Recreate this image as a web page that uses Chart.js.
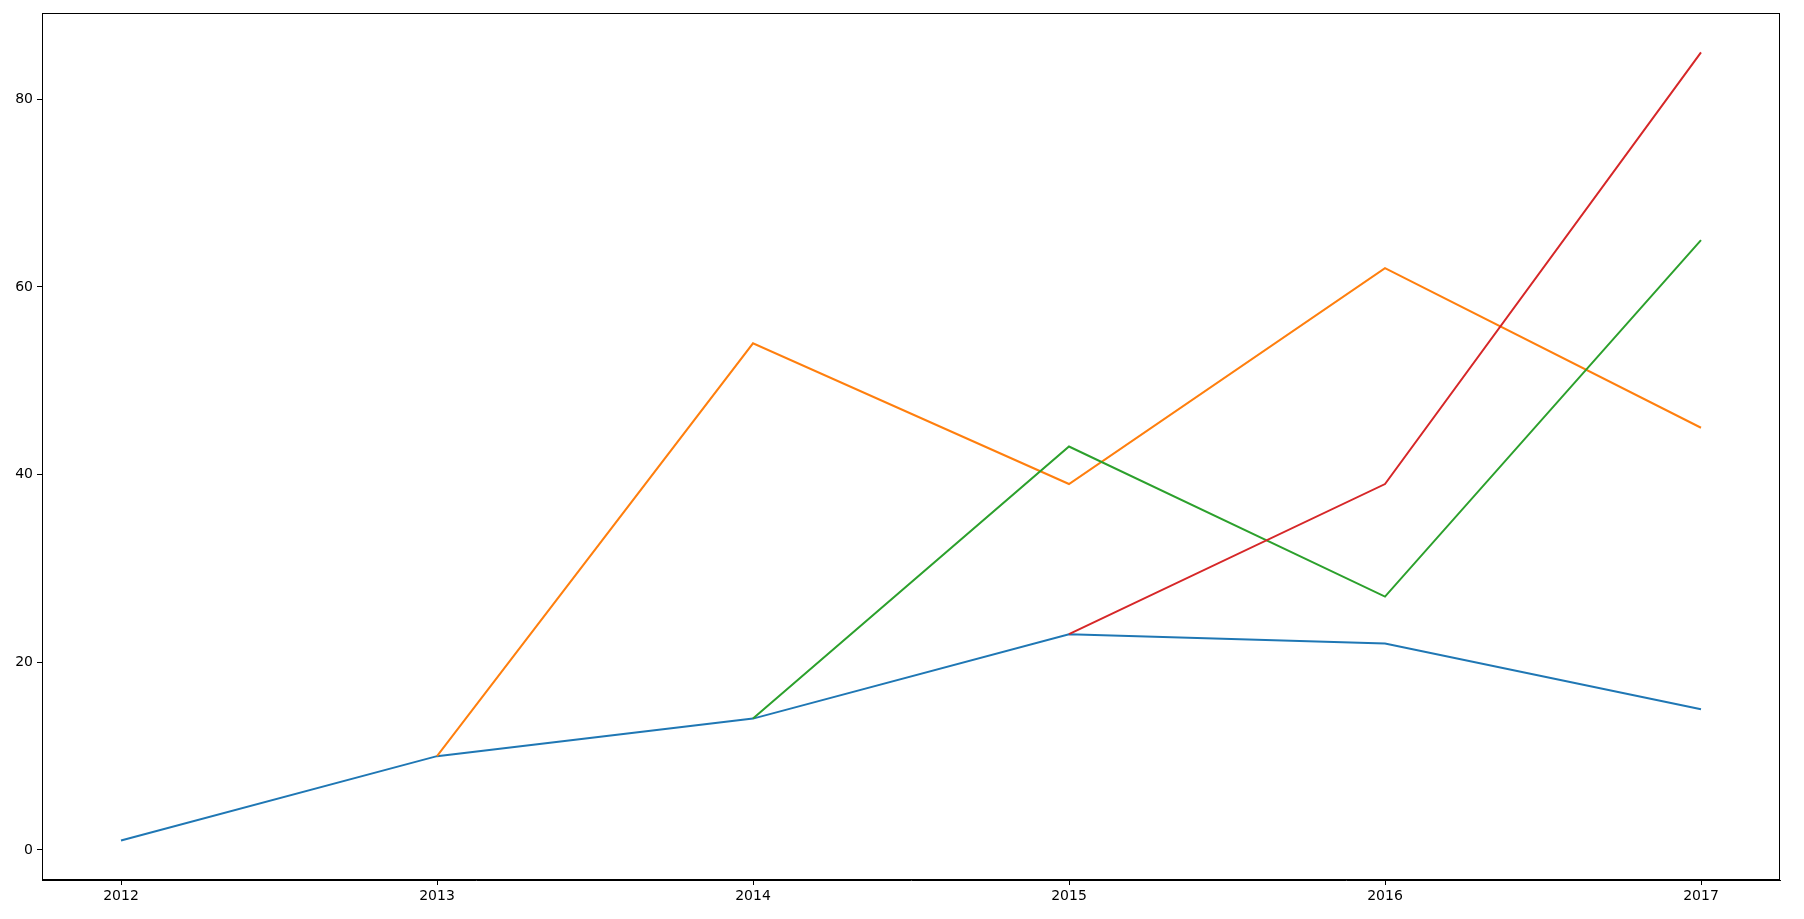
<!DOCTYPE html>
<html>
<head>
<meta charset="utf-8">
<script src="https://cdn.jsdelivr.net/npm/chart.js@4"></script>
<style>
html,body{margin:0;padding:0;background:#fff;}
#wrap{width:1804px;height:919px;}
</style>
</head>
<body>
<div id="wrap"><canvas id="c" width="1804" height="919"></canvas></div>
<script>
const years = [2012, 2013, 2014, 2015, 2016, 2017];
const seriesBlue   = [1, 10, 14, 23, 22, 15];
const seriesOrange = [null, 10, 54, 39, 62, 45];
const seriesGreen  = [null, null, 14, 43, 27, 65];
const seriesRed    = [null, null, null, 23, 39, 85];
const xTicks = [2012, 2013, 2014, 2015, 2016, 2017];
const yTicks = [0, 20, 40, 60, 80];

function pts(vals){
  const out = [];
  vals.forEach((v,i)=>{ if(v!==null) out.push({x:years[i], y:v}); });
  return out;
}

const frame = {
  id:'frame',
  afterDraw(chart){
    const a = chart.chartArea, ctx = chart.ctx;
    ctx.save();
    ctx.strokeStyle = '#000';
    ctx.lineWidth = 1;
    ctx.strokeRect(Math.round(a.left)+0.5, Math.round(a.top)+0.5, Math.round(a.right-a.left)-1, Math.round(a.bottom-a.top)-1);
    ctx.restore();
  }
};

const mk = (label, vals, color, order) => ({
  label, data: pts(vals), borderColor: color, backgroundColor: color,
  borderWidth: 2, pointRadius: 0, tension: 0, fill: false, order
});

new Chart(document.getElementById('c'), {
  type: 'line',
  data: {
    datasets: [
      mk('blue', seriesBlue, '#1f77b4', 4),
      mk('orange', seriesOrange, '#ff7f0e', 3),
      mk('green', seriesGreen, '#2ca02c', 2),
      mk('red', seriesRed, '#d62728', 1)
    ]
  },
  options: {
    responsive: false,
    animation: false,
    devicePixelRatio: 1,
    layout: { padding: { top: 13, right: 24, left: 0, bottom: 0 } },
    plugins: { legend: { display: false }, tooltip: { enabled: false } },
    scales: {
      x: {
        type: 'linear',
        min: 2011.75, max: 2017.25,
        afterBuildTicks: s => { s.ticks = xTicks.map(v => ({value: v})); },
        afterFit: s => { s.height = 39; },
        grid: { drawOnChartArea: false, drawTicks: true, tickLength: 5, color: '#000' },
        border: { display: true, color: '#000', width: 1 },
        ticks: { color: '#000', font: { family: 'DejaVu Sans', size: 14 }, padding: 3, maxRotation: 0, callback: v => String(v) }
      },
      y: {
        type: 'linear',
        min: -3.2, max: 89.2,
        afterBuildTicks: s => { s.ticks = yTicks.map(v => ({value: v})); },
        afterFit: s => { s.width = 42; },
        grid: { drawOnChartArea: false, drawTicks: true, tickLength: 5, color: '#000' },
        border: { display: true, color: '#000', width: 1 },
        ticks: { color: '#000', font: { family: 'DejaVu Sans', size: 14 }, padding: 4, callback: v => String(v) }
      }
    }
  },
  plugins: [frame]
});
</script>
</body>
</html>
